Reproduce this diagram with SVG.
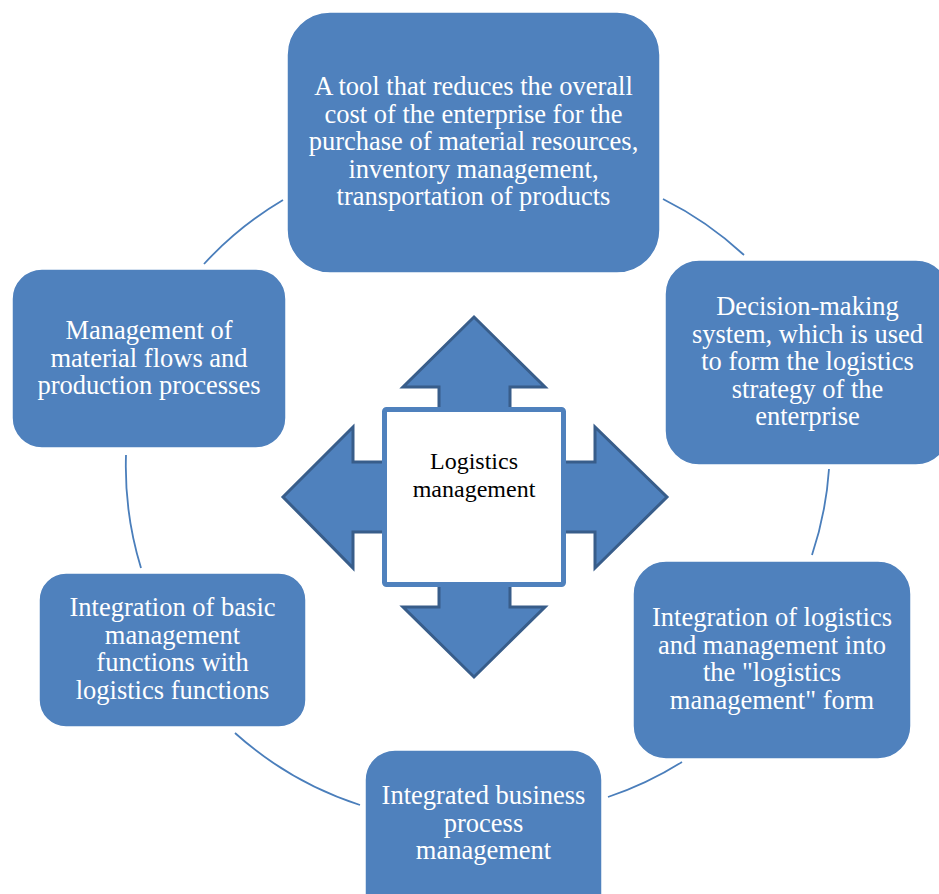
<svg xmlns="http://www.w3.org/2000/svg" width="939" height="894" viewBox="0 0 939 894">
<style>
.box{fill:#4F81BD;stroke:#FFFFFF;stroke-width:1.5}
.bt{font-family:"Liberation Serif","Times New Roman",serif;font-size:26.5px;fill:#FFFFFF;text-anchor:middle}
.ct{font-family:"Liberation Serif","Times New Roman",serif;font-size:24px;fill:#000000;text-anchor:middle}
.arc{fill:none;stroke:#4A7EBB;stroke-width:1.8}
</style>
<rect x="0" y="0" width="939" height="894" fill="#FFFFFF"/>
<g id="connectors">
<path class="arc" d="M204,264 A346,346 0 0,1 283,200"/>
<path class="arc" d="M663,199 A346,346 0 0,1 744,255"/>
<path class="arc" d="M829,469 A346,346 0 0,1 812,555"/>
<path class="arc" d="M682,762 A346,346 0 0,1 608,797"/>
<path class="arc" d="M360,805 A346,346 0 0,1 235,733"/>
<path class="arc" d="M141,568 A346,346 0 0,1 126,455"/>
</g>
<g id="center">
<polygon points="474,317 545,387 510,387 510,462 595,462 595,427 667,497 595,568 595,532 510,532 510,607 545,607 474,677 403,607 439,607 439,532 353,532 353,568 283,497 353,427 353,462 439,462 439,387 403,387" fill="#4F81BD" stroke="#385D8A" stroke-width="3" stroke-linejoin="miter"/>
<rect x="384.5" y="409.5" width="179" height="175" rx="2" fill="#FFFFFF" stroke="#4F81BD" stroke-width="5"/>
<text class="ct" x="474" y="469.3">Logistics</text>
<text class="ct" x="474" y="496.7">management</text>
</g>
<g id="node-top">
<rect class="box" x="287" y="12" width="373" height="261" rx="43"/>
<text class="bt" x="473.5" y="95">A tool that reduces the overall</text>
<text class="bt" x="473.5" y="122.5">cost of the enterprise for the</text>
<text class="bt" x="473.5" y="150">purchase of material resources,</text>
<text class="bt" x="473.5" y="177.5">inventory management,</text>
<text class="bt" x="473.5" y="205">transportation of products</text>
</g>
<g id="node-right">
<rect class="box" x="665" y="260" width="285" height="205" rx="34"/>
<text class="bt" x="807.5" y="315">Decision-making</text>
<text class="bt" x="807.5" y="342.5">system, which is used</text>
<text class="bt" x="807.5" y="370">to form the logistics</text>
<text class="bt" x="807.5" y="397.5">strategy of the</text>
<text class="bt" x="807.5" y="425">enterprise</text>
</g>
<g id="node-lower-right">
<rect class="box" x="633" y="561" width="278" height="198" rx="33"/>
<text class="bt" x="772" y="626">Integration of logistics</text>
<text class="bt" x="772" y="653.5">and management into</text>
<text class="bt" x="772" y="681">the "logistics</text>
<text class="bt" x="772" y="708.5">management" form</text>
</g>
<g id="node-bottom">
<rect class="box" x="365" y="750" width="237" height="180" rx="30"/>
<text class="bt" x="483.5" y="804">Integrated business</text>
<text class="bt" x="483.5" y="831.5">process</text>
<text class="bt" x="483.5" y="859">management</text>
</g>
<g id="node-lower-left">
<rect class="box" x="39" y="573" width="267" height="154" rx="27"/>
<text class="bt" x="172.5" y="616">Integration of basic</text>
<text class="bt" x="172.5" y="643.5">management</text>
<text class="bt" x="172.5" y="671">functions with</text>
<text class="bt" x="172.5" y="698.5">logistics functions</text>
</g>
<g id="node-left">
<rect class="box" x="12" y="269" width="274" height="179" rx="30"/>
<text class="bt" x="149" y="339.3">Management of</text>
<text class="bt" x="149" y="366.8">material flows and</text>
<text class="bt" x="149" y="394.3">production processes</text>
</g>
</svg>
